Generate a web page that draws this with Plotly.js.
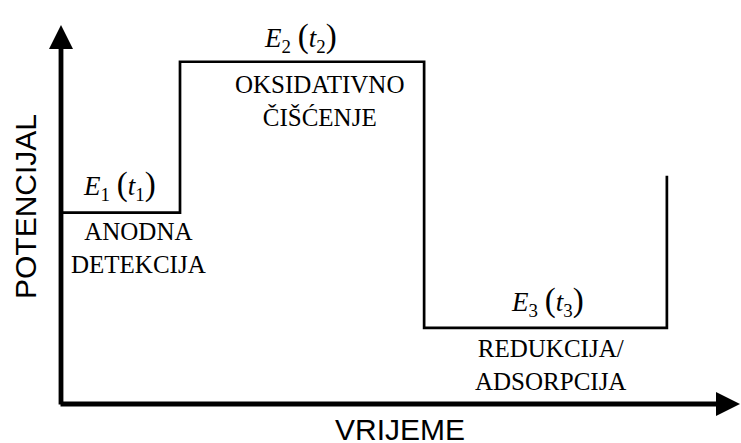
<!DOCTYPE html>
<html>
<head>
<meta charset="utf-8">
<script src="https://cdn.plot.ly/plotly-3.0.1.min.js"></script>
<style>
  html, body { margin: 0; padding: 0; background: #fff; }
  #chart { width: 741px; height: 443px; }
</style>
</head>
<body>
<div id="chart"></div>
<script>
// step waveform: potential level held from time[i] to time[i+1]
const time = [0, 17.5, 53.4, 89.1];
const potential = [50.5, 90.3, 20.1, 60.2];

const stageLabels = ["1", "2", "3"];
const stageNames = ["ANODNA<br>DETEKCIJA", "OKSIDATIVNO<br>ČIŠĆENJE", "REDUKCIJA/<br>ADSORPCIJA"];

const xTitle = "VRIJEME";
const yTitle = "POTENCIJAL";

// pixel nudges for the stage texts
const nameShift = [[18, -3], [17, -7], [5, -5]];
const labelShift = [[-1, 6], [-2, 3], [2, 5]];

const serif = "Liberation Serif, Times New Roman, serif";
const sans = "Liberation Sans, Arial, sans-serif";

function energyLabel(n) {
  const p = s => '<span style="font-size:33px">' + s + '</span>';
  return "<i>E</i><sub>" + n + "</sub> " + p("(") + "<i>t</i><sub>" + n + "</sub>" + p(")");
}

const trace = {
  x: time,
  y: potential,
  type: "scatter",
  mode: "lines",
  line: {color: "#000", width: 2.7, shape: "hv"},
  hoverinfo: "skip"
};

const plotW = 741 - 61, plotH = 443 - 25 - 39;
const annotations = [];

// axes drawn as arrows
annotations.push({
  x: 0, y: 100, ax: 0, ay: -0.5, xref: "x", yref: "y", axref: "x", ayref: "y",
  text: "", showarrow: true, arrowhead: 2, arrowsize: 1, arrowwidth: 4.8,
  arrowcolor: "#000", standoff: 0
});
annotations.push({
  x: 1 + 7 / plotW, y: 0, ax: -(plotW + 9), ay: 0, xref: "paper", yref: "y",
  text: "", showarrow: true, arrowhead: 2, arrowsize: 1, arrowwidth: 4.8,
  arrowcolor: "#000", standoff: 0
});

stageLabels.forEach((n, i) => {
  const mid = (time[i] + time[i + 1]) / 2;
  annotations.push({
    x: mid, y: potential[i], xref: "x", yref: "y",
    text: energyLabel(n), showarrow: false, xanchor: "center", yanchor: "bottom",
    xshift: labelShift[i][0], yshift: labelShift[i][1],
    font: {family: serif, size: 27, color: "#000"}
  });
  annotations.push({
    x: mid, y: potential[i], xref: "x", yref: "y",
    text: stageNames[i], showarrow: false, xanchor: "center", yanchor: "top",
    xshift: nameShift[i][0], yshift: nameShift[i][1],
    font: {family: serif, size: 25, color: "#000"}
  });
});

// axis titles placed in pixel terms via paper fractions
annotations.push({
  x: (400 - 61) / plotW, y: (404 - 429) / plotH, xref: "paper", yref: "paper",
  text: xTitle, showarrow: false, xanchor: "center", yanchor: "middle",
  font: {family: sans, size: 30, color: "#000"}
});
annotations.push({
  x: (25 - 61) / plotW, y: (404 - 207) / plotH, xref: "paper", yref: "paper",
  text: yTitle, showarrow: false, textangle: -90, xanchor: "center", yanchor: "middle",
  font: {family: sans, size: 30, color: "#000"}
});

const layout = {
  width: 741,
  height: 443,
  margin: {l: 61, r: 0, t: 25, b: 39},
  paper_bgcolor: "#fff",
  plot_bgcolor: "#fff",
  showlegend: false,
  xaxis: {
    range: [0, 100], showgrid: false, zeroline: false, showline: false,
    showticklabels: false, ticks: "", fixedrange: true
  },
  yaxis: {
    range: [0, 100], showgrid: false, zeroline: false, showline: false,
    showticklabels: false, ticks: "", fixedrange: true
  },
  annotations: annotations
};

Plotly.newPlot("chart", [trace], layout, {displayModeBar: false, staticPlot: true});
</script>
</body>
</html>
